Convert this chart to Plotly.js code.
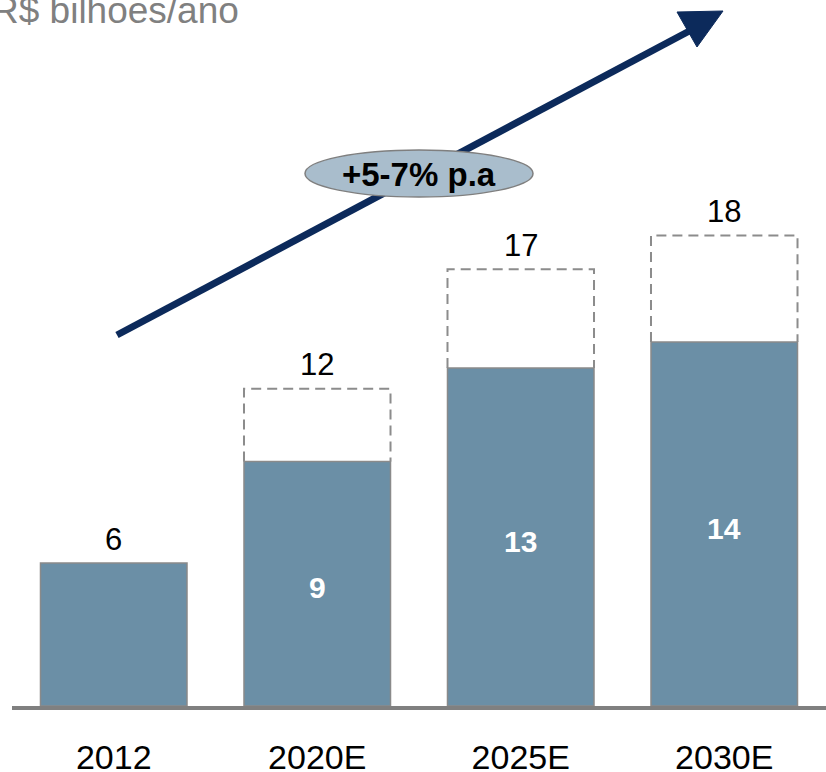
<!DOCTYPE html>
<html><head><meta charset="utf-8">
<script src="https://cdn.plot.ly/plotly-3.0.1.min.js"></script>
<style>html,body{margin:0;padding:0;background:#fff}#chart{width:826px;height:772px}</style>
</head><body><div id="chart"></div>
<script>
const categories = ['2012', '2020E', '2025E', '2030E'];
const baseValues = [5.5, 9.4, 13.0, 14.0];
const totalValues = [null, 12.2, 16.8, 18.1];
const baseLabels = ['', '9', '13', '14'];
const totalLabels = ['6', '12', '17', '18'];
const unitLabel = 'R$ bilhoes/ano';
const growthLabel = '+5-7% p.a';

const FONT = 'Liberation Sans, Arial, sans-serif';
const W = 826, H = 772, ML = 12, MR = 0, MT = 0, MB = 66;
const PW = W - ML - MR, PH = H - MT - MB;
const px = x => (x - ML) / PW;
const py = y => (H - MB - y) / PH;
const BW = 0.72;
const xs = categories.map((c, i) => i);

const dx = [], dy = [];
xs.forEach((x, i) => {
  if (totalValues[i] == null) return;
  dx.push(x - BW/2, x - BW/2, x + BW/2, x + BW/2, null);
  dy.push(baseValues[i], totalValues[i], totalValues[i], baseValues[i], null);
});
const topY = xs.map((x, i) => totalValues[i] == null ? baseValues[i] : totalValues[i]);

const traces = [
  {type: 'bar', x: xs, y: baseValues, width: BW,
   marker: {color: '#6b8fa6', line: {color: '#8a8a8a', width: 1.5}}, hoverinfo: 'skip'},
  {type: 'scatter', mode: 'lines', x: dx, y: dy,
   line: {color: '#8c8c8c', width: 2, dash: '10px,6px'}, hoverinfo: 'skip', connectgaps: false}
];

const annotations = [];
xs.forEach((x, i) => {
  annotations.push({xref: 'x', yref: 'y', x: x, y: topY[i], yshift: 24, yanchor: 'middle',
    xanchor: 'center', showarrow: false, text: totalLabels[i],
    font: {size: 31, color: '#000', family: FONT}});
  if (baseLabels[i]) annotations.push({xref: 'x', yref: 'y', x: x, y: baseValues[i] / 2, yshift: -4,
    yanchor: 'middle', xanchor: 'center', showarrow: false, text: '<b>' + baseLabels[i] + '</b>',
    font: {size: 30, color: '#ffffff', family: FONT}});
});
annotations.push(
  {xref: 'paper', yref: 'paper', x: px(-10), y: py(11), xanchor: 'left', yanchor: 'middle',
   text: unitLabel, showarrow: false, font: {size: 37, color: '#808080', family: FONT}},
  {xref: 'paper', yref: 'paper', x: px(419), y: py(174), xanchor: 'center', yanchor: 'middle',
   text: '<b>' + growthLabel + '</b>', showarrow: false, font: {size: 33, color: '#000', family: FONT}}
);

const arrowColor = '#0c2a5b';
const layout = {
  width: W, height: H,
  margin: {l: ML, r: MR, t: MT, b: MB},
  paper_bgcolor: '#ffffff', plot_bgcolor: '#ffffff',
  showlegend: false,
  font: {family: FONT, color: '#000'},
  xaxis: {range: [-0.5, 3.5], tickvals: xs, ticktext: categories,
    showgrid: false, zeroline: false, showline: true, linecolor: '#808080', linewidth: 4,
    ticks: 'outside', ticklen: 18, tickcolor: 'rgba(0,0,0,0)',
    tickfont: {size: 34, color: '#000', family: FONT}, fixedrange: true},
  yaxis: {range: [0, PH / 26], visible: false, fixedrange: true},
  shapes: [
    {type: 'line', xref: 'paper', yref: 'paper', x0: px(117), y0: py(335), x1: px(695), y1: py(28),
     line: {color: arrowColor, width: 7}},
    {type: 'path', xref: 'paper', yref: 'paper',
     path: `M ${px(677)} ${py(12)} L ${px(723)} ${py(11)} L ${px(697)} ${py(47)} Z`,
     fillcolor: arrowColor, line: {color: arrowColor, width: 1}},
    {type: 'circle', xref: 'paper', yref: 'paper', x0: px(305), x1: px(533), y0: py(197), y1: py(150),
     fillcolor: '#a9bdcc', line: {color: '#7f7f7f', width: 1.5}}
  ],
  annotations: annotations
};
Plotly.newPlot('chart', traces, layout, {staticPlot: true, displayModeBar: false});
</script></body></html>
